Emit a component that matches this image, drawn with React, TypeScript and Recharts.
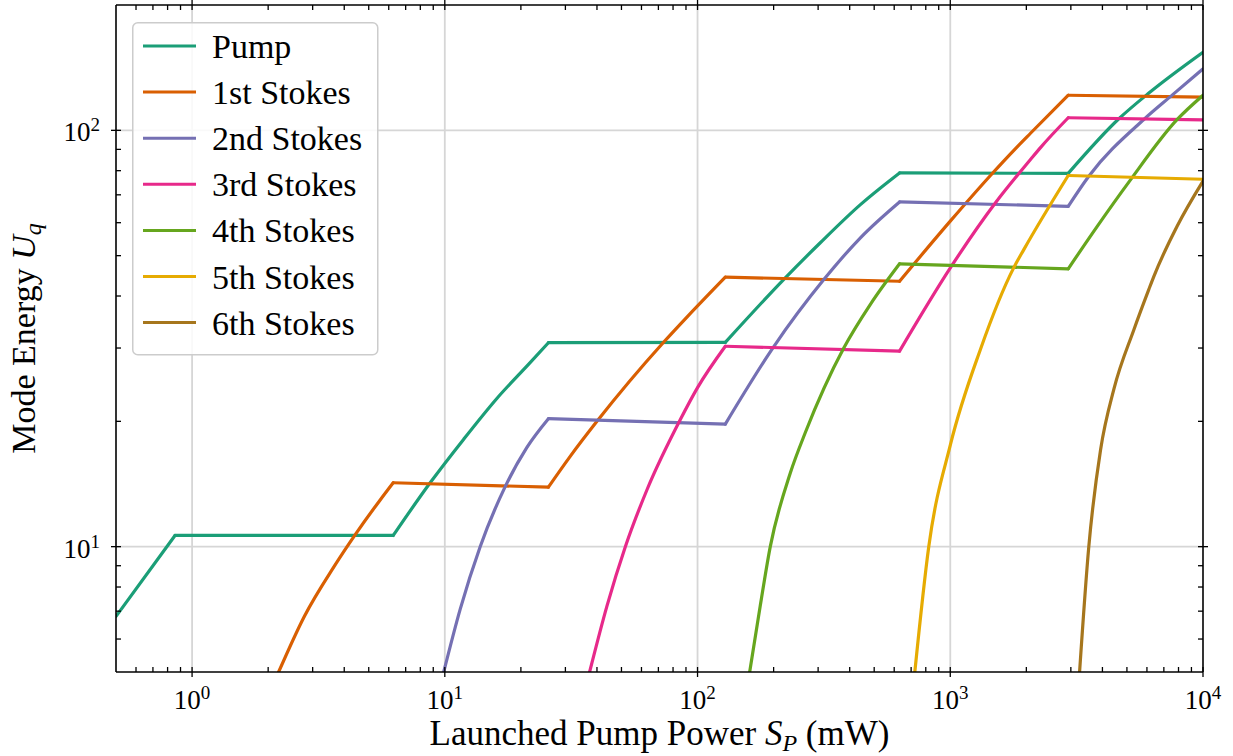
import React from "react";
import { LineChart, Line, XAxis, YAxis, CartesianGrid, Legend } from "recharts";

const FONT = '"Liberation Serif", "DejaVu Serif", serif';

// [launched pump power (mW), mode energy]
const PUMP: [number, number][] = [
  [0.5, 6.8], [0.856, 10.64], [6.25, 10.64], [8.75, 14.24], [11.86, 18.1],
  [16.07, 22.7], [21.8, 27.7], [25.7, 30.9], [128.8, 30.95], [219, 43.8],
  [306, 53.7], [441, 66.3], [630, 79.0], [2929, 78.8], [4645, 106.6],
  [6106, 122.9], [10000, 154],
];
const STOKES_1: [number, number][] = [
  [2.2, 5], [2.78, 6.8], [3.65, 8.97], [4.45, 10.75], [5.55, 12.95], [6.25, 14.24],
  [25.7, 13.9], [31.4, 16.5], [40, 20.0], [73.4, 30.97], [90.8, 35.6],
  [128.8, 44.4], [630, 43.4], [1002, 60.6], [1442, 77.9], [1812, 90.4],
  [2077, 98.4], [2929, 121.4], [10000, 120.1],
];
const STOKES_2: [number, number][] = [
  [9.9, 5], [11.5, 7.07], [13.8, 10.0], [17.3, 13.9], [21.1, 17.3], [25.7, 20.3],
  [128.8, 19.7], [200, 30.2], [316, 43.8], [441, 55.2], [630, 67.3],
  [2929, 65.7], [3533, 77.6], [5833, 106.2], [7550, 121.5], [10000, 140.5],
];
const STOKES_3: [number, number][] = [
  [37.4, 5], [43.8, 7.2], [51.8, 10], [63.1, 13.7], [85.5, 20.2], [100, 24.1],
  [128.8, 30.3], [630, 29.5], [1002, 46.8], [1510, 67.0], [2077, 85.1],
  [2275, 90.9], [2929, 107.2], [10000, 106.0],
];
const STOKES_4: [number, number][] = [
  [160.8, 5], [177, 7.2], [194, 10], [233, 15.05], [267, 18.8], [379, 30.0],
  [483, 38.2], [630, 47.8], [2929, 46.5], [3815, 58.8], [5096, 75.2],
  [7907, 106.2], [10000, 121.4],
];
const STOKES_5: [number, number][] = [
  [724, 5], [822, 10], [1002, 17.6], [1317, 29.8], [1784, 46.8], [1954, 51.7],
  [2929, 77.9], [10000, 76.3],
];
const STOKES_6: [number, number][] = [
  [3248, 5], [3533, 10], [3933, 17.1], [4440, 23.9], [5327, 33.2], [6106, 41.5],
  [6392, 44.6], [7907, 58.9], [10000, 75.5],
];

const SERIES = [
  { name: "Pump", color: "#1b9e77", points: PUMP },
  { name: "1st Stokes", color: "#d95f02", points: STOKES_1 },
  { name: "2nd Stokes", color: "#7570b3", points: STOKES_2 },
  { name: "3rd Stokes", color: "#e7298a", points: STOKES_3 },
  { name: "4th Stokes", color: "#66a61e", points: STOKES_4 },
  { name: "5th Stokes", color: "#e6ab02", points: STOKES_5 },
  { name: "6th Stokes", color: "#a6761d", points: STOKES_6 },
];

const X_MAJOR = [1, 10, 100, 1000, 10000];
const X_MINOR = [
  0.6, 0.7, 0.8, 0.9,
  2, 3, 4, 5, 6, 7, 8, 9,
  20, 30, 40, 50, 60, 70, 80, 90,
  200, 300, 400, 500, 600, 700, 800, 900,
  2000, 3000, 4000, 5000, 6000, 7000, 8000, 9000,
];
const Y_MAJOR = [10, 100];
const Y_MINOR = [6, 7, 8, 9, 20, 30, 40, 50, 60, 70, 80, 90];

const X_TICKS = [...X_MAJOR, ...X_MINOR].sort((a, b) => a - b);
const Y_TICKS = [...Y_MAJOR, ...Y_MINOR].sort((a, b) => a - b);

// split a series into its plateaus and its rising stretches, so the rises can be
// drawn as smooth curves while the corners between them stay sharp
const splitRuns = (pts: [number, number][]) => {
  const runs: [number, number][][] = [];
  let cur: [number, number][] = [pts[0]];
  let kind = "";
  for (let i = 1; i < pts.length; i++) {
    const [x0, y0] = pts[i - 1];
    const [x1, y1] = pts[i];
    const slope = Math.log10(y1 / y0) / Math.log10(x1 / x0);
    const k = Math.abs(slope) < 0.2 ? "flat" : "rise";
    if (kind && k !== kind) {
      runs.push(cur);
      cur = [pts[i - 1]];
    }
    cur.push(pts[i]);
    kind = k;
  }
  runs.push(cur);
  return runs;
};

const isMajor = (v: number) => {
  const e = Math.log10(v);
  return Math.abs(e - Math.round(e)) < 1e-9;
};

const TICK = { stroke: "#000", strokeWidth: 1.3 };

const Pow10 = ({ v }: { v: number }) => (
  <>
    10<tspan dy={-10} fontSize={19}>{Math.round(Math.log10(v))}</tspan>
  </>
);

const BottomTick = ({ x, y, payload }: any) => {
  const major = isMajor(payload.value);
  return (
    <g>
      <line x1={x} x2={x} y1={major ? y + 5 : y} y2={y - 5} {...TICK} />
      {major && (
        <text x={x} y={y + 37} textAnchor="middle" fontSize={27} fontFamily={FONT} fill="#000">
          <Pow10 v={payload.value} />
        </text>
      )}
    </g>
  );
};

const TopTick = ({ x, y, payload }: any) => {
  const major = isMajor(payload.value);
  return <line x1={x} x2={x} y1={major ? y - 5 : y} y2={y + 5} {...TICK} />;
};

const LeftTick = ({ x, y, payload }: any) => {
  const major = isMajor(payload.value);
  return (
    <g>
      <line x1={major ? x - 5 : x} x2={x + 5} y1={y} y2={y} {...TICK} />
      {major && (
        <text x={x - 16} y={y + 11} textAnchor="end" fontSize={27} fontFamily={FONT} fill="#000">
          <Pow10 v={payload.value} />
        </text>
      )}
    </g>
  );
};

const RightTick = ({ x, y, payload }: any) => {
  const major = isMajor(payload.value);
  return <line x1={major ? x + 5 : x} x2={x - 5} y1={y} y2={y} {...TICK} />;
};

const XLabel = ({ viewBox }: any) => (
  <text
    x={viewBox.x + viewBox.width / 2}
    y={viewBox.y + 73}
    textAnchor="middle"
    fontSize={35}
    fontFamily={FONT}
    fill="#000"
  >
    Launched Pump Power{" "}
    <tspan fontStyle="italic">S</tspan>
    <tspan fontStyle="italic" fontSize={24} dy={6}>P</tspan>
    <tspan dy={-6}> (mW)</tspan>
  </text>
);

const YLabel = ({ viewBox }: any) => {
  const cx = 35;
  const cy = viewBox.y + viewBox.height / 2;
  return (
    <text
      x={cx}
      y={cy}
      transform={`rotate(-90, ${cx}, ${cy})`}
      textAnchor="middle"
      fontSize={34}
      fontFamily={FONT}
      fill="#000"
    >
      Mode Energy <tspan fontStyle="italic">U</tspan>
      <tspan fontStyle="italic" fontSize={24} dy={6}>q</tspan>
    </text>
  );
};

const LegendBox = () => (
  <svg width={247} height={334} style={{ display: "block" }}>
    <rect x={0.75} y={0.75} width={245} height={332} rx={5} fill="#fff" fillOpacity={0.85} stroke="#cccccc" strokeWidth={1.5} />
    {SERIES.map((s, i) => {
      const cy = 24 + i * 46.1;
      return (
        <g key={s.name}>
          <line x1={11} x2={64} y1={cy} y2={cy} stroke={s.color} strokeWidth={3} />
          <text x={80} y={cy + 12} fontSize={34} fontFamily={FONT} fill="#000">{s.name}</text>
        </g>
      );
    })}
  </svg>
);

export default function App() {
  return (
    <div style={{ width: 1233, height: 756, background: "#fff" }}>
      <style>{"body{margin:0}"}</style>
      <LineChart width={1233} height={756} margin={{ top: 0, right: 0, bottom: 0, left: 0 }} style={{ fontFamily: FONT }}>
        <XAxis
          xAxisId="b"
          type="number"
          dataKey="x"
          scale="log"
          domain={[0.5, 10000]}
          allowDataOverflow
          ticks={X_TICKS}
          interval={0}
          tickSize={0}
          tickMargin={0}
          tickLine={false}
          axisLine={{ stroke: "#000", strokeWidth: 1.6 }}
          height={84}
          tick={(p: any) => <BottomTick {...p} />}
          label={(p: any) => <XLabel {...p} />}
        />
        <XAxis
          xAxisId="t"
          orientation="top"
          type="number"
          dataKey="x"
          scale="log"
          domain={[0.5, 10000]}
          allowDataOverflow
          ticks={X_TICKS}
          interval={0}
          tickSize={0}
          tickMargin={0}
          tickLine={false}
          axisLine={{ stroke: "#000", strokeWidth: 1.6 }}
          height={5}
          tick={(p: any) => <TopTick {...p} />}
        />
        <YAxis
          yAxisId="l"
          type="number"
          scale="log"
          domain={[5, 200]}
          allowDataOverflow
          ticks={Y_TICKS}
          interval={0}
          tickSize={0}
          tickMargin={0}
          tickLine={false}
          axisLine={{ stroke: "#000", strokeWidth: 1.6 }}
          width={116}
          tick={(p: any) => <LeftTick {...p} />}
          label={(p: any) => <YLabel {...p} />}
        />
        <YAxis
          yAxisId="r"
          orientation="right"
          type="number"
          scale="log"
          domain={[5, 200]}
          allowDataOverflow
          ticks={Y_TICKS}
          interval={0}
          tickSize={0}
          tickMargin={0}
          tickLine={false}
          axisLine={{ stroke: "#000", strokeWidth: 1.6 }}
          width={30}
          tick={(p: any) => <RightTick {...p} />}
        />
        <CartesianGrid
          xAxisId="b"
          yAxisId="l"
          verticalValues={X_MAJOR.slice(0, 4)}
          horizontalValues={Y_MAJOR}
          stroke="#d6d6d6"
          strokeWidth={1.8}
        />
        <Legend
          layout="vertical"
          align="center"
          verticalAlign="middle"
          wrapperStyle={{ left: 132, top: 22, width: 247, height: 334 }}
          content={() => <LegendBox />}
        />
        {SERIES.flatMap((s) =>
          splitRuns(s.points).map((run, j) => (
            <Line
              key={`${s.name}-${j}`}
              xAxisId="b"
              yAxisId="l"
              name={s.name}
              data={run.map(([x, y]) => ({ x, y }))}
              dataKey="y"
              type="monotone"
              stroke={s.color}
              strokeWidth={3.2}
              strokeLinejoin="round"
              strokeLinecap="round"
              dot={false}
              activeDot={false}
              legendType="none"
              isAnimationActive={false}
            />
          ))
        )}
      </LineChart>
    </div>
  );
}
